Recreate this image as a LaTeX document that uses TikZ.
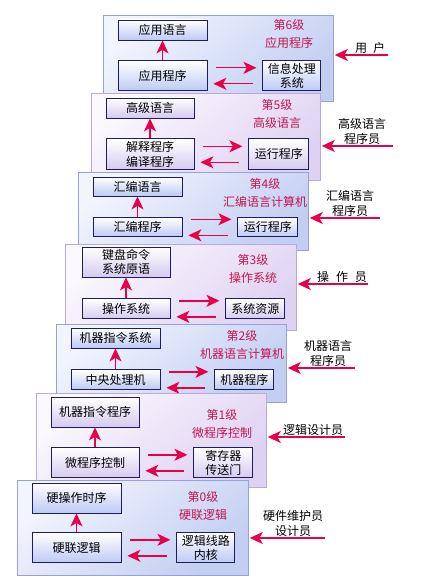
\documentclass[tikz,border=0pt]{standalone}
\usepackage{fontspec}
\setmainfont{Noto Sans CJK SC}
\usepackage{tikz}
\usetikzlibrary{shapes,arrows.meta,calc,positioning}
\definecolor{panelbluelt}{RGB}{242,245,253}
\definecolor{panelbluedk}{RGB}{194,206,242}
\definecolor{panelblueln}{RGB}{150,162,214}
\definecolor{panelpurplt}{RGB}{251,248,254}
\definecolor{panelpurpdk}{RGB}{222,210,242}
\definecolor{panelpurpln}{RGB}{186,170,218}
\definecolor{boxline}{RGB}{30,30,90}
\definecolor{boxbluedk}{RGB}{188,202,244}
\definecolor{boxpurpdk}{RGB}{214,202,240}
\definecolor{lvlred}{RGB}{196,20,80}
\definecolor{flowred}{RGB}{232,0,72}
\tikzset{
    every node/.style={font=\fontsize{12pt}{14.5pt}\selectfont},
    panel/.style={rectangle, draw, anchor=north west, inner sep=0pt, line width=0.8pt},
    panelB/.style={panel, draw=panelblueln, top color=panelbluelt, bottom color=panelbluedk, shading angle=40},
    panelP/.style={panel, draw=panelpurpln, top color=panelpurplt, bottom color=panelpurpdk, shading angle=40},
    box/.style={rectangle, draw=boxline, line width=0.8pt, align=center, inner sep=1pt, minimum width=89pt, minimum height=20pt},
    boxB/.style={box, top color=white, bottom color=boxbluedk},
    boxP/.style={box, top color=white, bottom color=boxpurpdk},
    lvl/.style={align=center, text=lvlred, font=\fontsize{12pt}{18pt}\selectfont},
    who/.style={align=center, anchor=south, inner sep=1pt, font=\fontsize{12pt}{15pt}\selectfont},
    flow/.style={draw=flowred, line width=1.4pt, -{Stealth[length=13pt,width=12pt,inset=3.5pt]}},
    fwd/.style={flow, shorten <=9pt, shorten >=6pt}
}

\begin{document}
\begin{tikzpicture}[x=1pt, y=-1pt, node distance=20pt and 55pt]
  \useasboundingbox (0,0) rectangle (420,588);

  % level 6
  \node[panelB, minimum width=230pt, minimum height=86pt] (lv6) at (103,15) {};
  \node[boxB] (lang6) at (162.5,30) {应用语言};
  \node[boxB, below=of lang6, minimum height=30pt] (prog6) {应用程序};
  \node[boxB, right=of prog6, minimum width=58pt, minimum height=30pt] (sys6) {信息处理\\系统};
  \node[lvl] (lab6) at (289,34) {第6级\\应用程序};
  \draw[flow] (prog6.north) -- (lang6.south);
  \draw[fwd] ([yshift=8pt]prog6.east) -- ([yshift=8pt]sys6.west);
  \draw[fwd] ([yshift=-8pt]sys6.west) -- ([yshift=-8pt]prog6.east);
  \coordinate (u6) at (388,55);
  \node[who] (who6) at (370,55) {用\hspace{6pt}户};
  \draw[flow, shorten >=1pt] (u6) -- (u6 -| lv6.east);

  % level 5
  \node[panelP, minimum width=229pt, minimum height=87pt] (lv5) at (91,93) {};
  \node[boxP, minimum width=88pt] (lang5) at (150,108) {高级语言};
  \node[boxP, below=of lang5, minimum width=88pt, minimum height=31pt] (prog5) {解释程序\\编译程序};
  \node[boxP, right=54pt of prog5, minimum width=60pt, minimum height=31pt] (run5) {运行程序};
  \node[lvl] (lab5) at (277,113.5) {第5级\\高级语言};
  \draw[flow] (prog5.north) -- (lang5.south);
  \draw[fwd] ([yshift=8pt]prog5.east) -- ([yshift=8pt]run5.west);
  \draw[fwd] ([yshift=-8pt]run5.west) -- ([yshift=-8pt]prog5.east);
  \coordinate (u5) at (393,146);
  \node[who] (who5) at (362,146) {高级语言\\程序员};
  \draw[flow, shorten >=1pt] (u5) -- (u5 -| lv5.east);

  % level 4
  \node[panelB, minimum width=230pt, minimum height=78pt] (lv4) at (78,172) {};
  \node[boxB, minimum height=19pt] (lang4) at (137.5,186.5) {汇编语言};
  \node[boxB, below=21pt of lang4, minimum height=19pt] (prog4) {汇编程序};
  \node[boxB, right=of prog4, minimum width=60pt, minimum height=19pt] (run4) {运行程序};
  \node[lvl] (lab4) at (265,193) {第4级\\汇编语言计算机};
  \draw[flow] (prog4.north) -- (lang4.south);
  \draw[fwd] ([yshift=8pt]prog4.east) -- ([yshift=8pt]run4.west);
  \draw[fwd] ([yshift=-8pt]run4.west) -- ([yshift=-8pt]prog4.east);
  \coordinate (u4) at (380,218);
  \node[who] (who4) at (350,218) {汇编语言\\程序员};
  \draw[flow, shorten >=1pt] (u4) -- (u4 -| lv4.east);

  % level 3
  \node[panelP, minimum width=231pt, minimum height=86pt] (lv3) at (65,244) {};
  \node[boxP, minimum width=88pt, minimum height=30pt] (lang3) at (126,262) {键盘命令\\系统原语};
  \node[boxP, below=21pt of lang3, minimum width=88pt] (os3) {操作系统};
  \node[boxP, right=of os3, minimum width=59pt] (res3) {系统资源};
  \node[lvl] (lab3) at (253,268.5) {第3级\\操作系统};
  \draw[flow] (os3.north) -- (lang3.south);
  \draw[fwd] ([yshift=8pt]os3.east) -- ([yshift=8pt]res3.west);
  \draw[fwd] ([yshift=-8pt]res3.west) -- ([yshift=-8pt]os3.east);
  \coordinate (u3) at (368,284);
  \node[who] (who3) at (342,284) {操\hspace{7pt}作\hspace{7pt}员};
  \draw[flow, shorten >=1pt] (u3) -- (u3 -| lv3.east);

  % level 2
  \node[panelB, minimum width=230pt, minimum height=78pt] (lv2) at (56,324) {};
  \node[boxB] (lang2) at (115.5,338) {机器指令系统};
  \node[boxB, below=21pt of lang2] (cpu2) {中央处理机};
  \node[boxB, right=54pt of cpu2, minimum width=59pt] (prog2) {机器程序};
  \node[lvl] (lab2) at (242,345) {第2级\\机器语言计算机};
  \draw[flow] (cpu2.north) -- (lang2.south);
  \draw[fwd] ([yshift=8pt]cpu2.east) -- ([yshift=8pt]prog2.west);
  \draw[fwd] ([yshift=-8pt]prog2.west) -- ([yshift=-8pt]cpu2.east);
  \coordinate (u2) at (355,368);
  \node[who] (who2) at (328,368) {机器语言\\程序员};
  \draw[flow, shorten >=1pt] (u2) -- (u2 -| lv2.east);

  % level 1
  \node[panelP, minimum width=230pt, minimum height=94pt] (lv1) at (36,393) {};
  \node[boxP, minimum width=88pt, minimum height=30pt] (lang1) at (95,412) {机器指令程序};
  \node[boxP, below=of lang1, minimum width=88pt, minimum height=30pt] (micro1) {微程序控制};
  \node[boxP, right=54pt of micro1, minimum width=59pt, minimum height=30pt] (reg1) {寄存器\\传送门};
  \node[lvl] (lab1) at (222,423.5) {第1级\\微程序控制};
  \draw[flow] (micro1.north) -- (lang1.south);
  \draw[fwd] ([yshift=8pt]micro1.east) -- ([yshift=8pt]reg1.west);
  \draw[fwd] ([yshift=-8pt]reg1.west) -- ([yshift=-8pt]micro1.east);
  \coordinate (u1) at (345,437);
  \node[who] (who1) at (313,437) {逻辑设计员};
  \draw[flow, shorten >=1pt] (u1) -- (u1 -| lv1.east);

  % level 0
  \node[panelB, minimum width=231pt, minimum height=95pt] (lv0) at (17,480) {};
  \node[boxB, minimum height=30pt] (lang0) at (76.5,498) {硬操作时序};
  \node[boxB, below=19pt of lang0, minimum height=30pt] (logic0) {硬联逻辑};
  \node[boxB, right=of logic0, minimum width=58pt, minimum height=30pt] (core0) {逻辑线路\\内核};
  \node[lvl] (lab0) at (203,505.5) {第0级\\硬联逻辑};
  \draw[flow] (logic0.north) -- (lang0.south);
  \draw[fwd] ([yshift=8pt]logic0.east) -- ([yshift=8pt]core0.west);
  \draw[fwd] ([yshift=-8pt]core0.west) -- ([yshift=-8pt]logic0.east);
  \coordinate (u0) at (325,538);
  \node[who] (who0) at (293,538) {硬件维护员\\设计员};
  \draw[flow, shorten >=1pt] (u0) -- (u0 -| lv0.east);
\end{tikzpicture}
\end{document}
